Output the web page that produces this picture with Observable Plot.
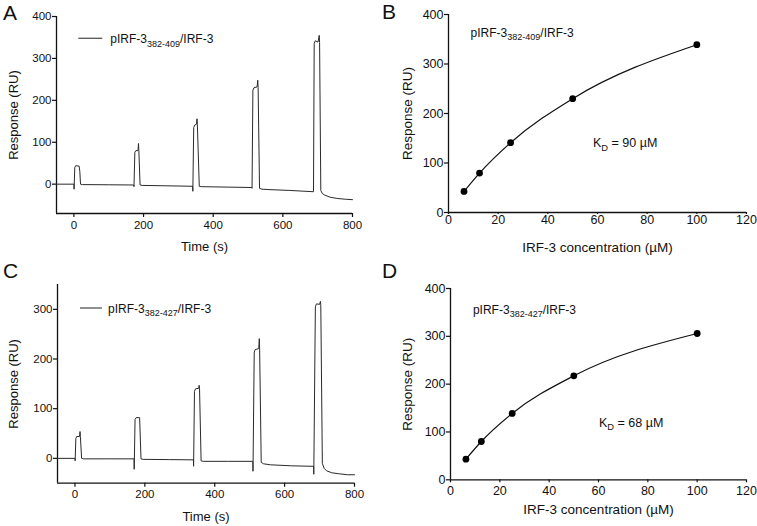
<!DOCTYPE html>
<html><head><meta charset="utf-8">
<script src="https://cdn.jsdelivr.net/npm/d3@7"></script>
<script src="https://cdn.jsdelivr.net/npm/@observablehq/plot@0.6"></script>
<style>
body{margin:0;background:#fff;}
#root{position:relative;width:757px;height:526px;background:#fff;overflow:hidden;font-family:"Liberation Sans",Arial,Helvetica,sans-serif;}
.panel{position:absolute;}
.panel svg{display:block;}
</style></head><body><div id="root"></div>
<script>
// ---------- Data ----------
// Panel A sensorgram: pIRF-3(382-409)/IRF-3
const timeA = [-50,0,0.5,2.5,5,15,17,19,24,100, 172,172.5,175,178,184,185.5,186.5,190,196,270, 341,341.5,344,347,352,353.5,354.5,360,366,440, 511,511.5,514,517,526,528,529,533,540,560, 620,687,688,690,693,701,704.5,705.5,709,713, 720,735,755,780,800];
const respA = [0,0,-12,40,44,43,30,0,-1,-1.5, -2,-6,76,80,80,97,80,-2,-3,-4, -5,-17,135,141,143,156,142,-5,-6,-7, -8,-10,224,230,232,248,230,-10,-12,-13, -15,-18,-18,335,342,339,355,338,-15,-22, -26,-31,-34,-36,-37];
// Panel C sensorgram: pIRF-3(382-427)/IRF-3
const timeC = [-50,0,0.5,2.5,5,13,14.5,15.5,19,25, 100,169,169.5,172,175,185,189,195,270,339, 339.5,342,345,354,355.5,356.5,361,367,440,509, 509.5,513,516,526,527.5,528.5,533,540,560,620, 683,683.5,688,691,700,702.5,703.5,708,713,720, 735,755,780,800];
const respC = [0,0,-5,40,44,44,54,44,0,-1, -1,-1,-22,78,82,82,-1,-2,-2.5,-3, -16,135,140,141,147,140,-5,-6,-6,-6, -26,214,219,221,241,220,-8,-11,-13,-15, -16,-32,305,311,310,316,309,-10,-20,-25, -29,-31,-33,-33];
// Panels B / D: steady-state response vs concentration
const concentration = [6.25, 12.5, 25, 50, 100];
const respB = [42.5, 79.6, 141, 230, 339];
const respD = [43.2, 80.1, 138.7, 217.4, 305.9];
// Ticks
const timeTicks = [0, 200, 400, 600, 800];
const respTicksA = [0, 100, 200, 300, 400];
const respTicksC = [0, 100, 200, 300];
const concTicks = [0, 20, 40, 60, 80, 100, 120];
const respTicksFit = [0, 100, 200, 300, 400];
// Labels
const labelA = [["pIRF-3"], ["382-409", true], ["/IRF-3"]];
const labelC = [["pIRF-3"], ["382-427", true], ["/IRF-3"]];
const kdB = [["K"], ["D", true], [" = 90 µM"]];
const kdD = [["K"], ["D", true], [" = 68 µM"]];

const FONT = "'Liberation Sans', Arial, Helvetica, sans-serif";
const root = document.getElementById("root");

function toRows(xs, ys) { return xs.map((x, i) => ({x, y: ys[i]})); }

function richText(svg, plot, x, y, parts, size) {
  const sx = plot.scale("x"), sy = plot.scale("y");
  const t = d3.select(svg).append("text")
    .attr("x", sx.apply(x)).attr("y", sy.apply(y))
    .attr("text-anchor", "start")
    .attr("font-size", size).attr("fill", "#111").attr("font-family", FONT);
  const shift = size * 0.28;
  let down = false;
  for (const [s, sub] of parts) {
    const ts = t.append("tspan").text(s);
    if (sub && !down) { ts.attr("dy", shift).attr("font-size", size * 0.75); down = true; }
    else if (!sub && down) { ts.attr("dy", -shift); down = false; }
  }
}

function panel(cfg) {
  const div = document.createElement("div");
  div.className = "panel";
  div.style.left = cfg.left + "px";
  div.style.top = cfg.top + "px";
  const [mt, mr, mb, ml] = cfg.margin;
  const plot = Plot.plot({
    width: cfg.width, height: cfg.height,
    marginTop: mt, marginRight: mr, marginBottom: mb, marginLeft: ml,
    x: {domain: cfg.xDomain},
    y: {domain: cfg.yDomain},
    style: {fontFamily: FONT, color: "#111", background: "white", overflow: "visible"},
    marks: [
      Plot.axisX(cfg.xTicks, {tickSize: cfg.xTickSize, tickPadding: cfg.xTickPadding, fontSize: cfg.tickFont, label: null, strokeWidth: 1.2}),
      Plot.axisY(cfg.yTicks, {tickSize: 4, tickPadding: 1, fontSize: cfg.tickFont, label: null, strokeWidth: 1.2}),
      Plot.ruleX([cfg.xDomain[0]], {stroke: "#111", strokeWidth: 1.3}),
      Plot.ruleY([cfg.yDomain[0]], {stroke: "#111", strokeWidth: 1.3}),
      ...cfg.marks,
      Plot.text([cfg.xTitle], {frameAnchor: "bottom", dy: cfg.xTitleDy, fontSize: cfg.titleFont, lineAnchor: "middle", textAnchor: "middle", fill: "#111"}),
      Plot.text([cfg.yTitle], {frameAnchor: "left", dx: cfg.yTitleDx, rotate: -90, fontSize: cfg.titleFont, lineAnchor: "middle", textAnchor: "middle", fill: "#111"})
    ]
  });
  d3.select(plot).append("text").text(cfg.letter)
    .attr("x", cfg.letterPos[0]).attr("y", cfg.letterPos[1])
    .attr("text-anchor", "start")
    .attr("font-size", 21).attr("font-family", FONT).attr("fill", "#111");
  for (const a of cfg.annotations) richText(plot, plot, a.x, a.y, a.parts, a.size);
  div.appendChild(plot);
  root.appendChild(div);
  return plot;
}

// Panel A
panel({
  left: 0, top: 0, width: 380, height: 260, margin: [16, 28, 47, 56],
  xDomain: [-50, 800], yDomain: [-70, 400], xTicks: timeTicks, yTicks: respTicksA,
  xTickSize: 4, xTickPadding: 3, tickFont: 11.5, titleFont: 13,
  xTitle: "Time (s)", yTitle: "Response (RU)", xTitleDy: 33.5, yTitleDx: -43,
  letter: "A", letterPos: [3, 20],
  marks: [
    Plot.line(toRows(timeA, respA), {x: "x", y: "y", stroke: "#2a2a2a", strokeWidth: 1}),
    Plot.ruleY([348], {x1: 14, x2: 83, stroke: "#555", strokeWidth: 1.3})
  ],
  annotations: [{x: 106, y: 335, parts: labelA, size: 12}]
});

// Panel B
panel({
  left: 380, top: 0, width: 377, height: 260, margin: [14, 11, 48, 68],
  xDomain: [0, 120], yDomain: [0, 400], xTicks: concTicks, yTicks: respTicksFit,
  xTickSize: 2, xTickPadding: 1, tickFont: 12.5, titleFont: 13.5,
  xTitle: "IRF-3 concentration (µM)", yTitle: "Response (RU)", xTitleDy: 35.4, yTitleDx: -41,
  letter: "B", letterPos: [2, 19],
  marks: [
    Plot.line(toRows(concentration, respB), {x: "x", y: "y", curve: "monotone-x", stroke: "#111", strokeWidth: 1.2}),
    Plot.dot(toRows(concentration, respB), {x: "x", y: "y", r: 3.4, fill: "#000", stroke: "none"})
  ],
  annotations: [
    {x: 9.1, y: 354, parts: labelA, size: 12},
    {x: 58.4, y: 131, parts: kdB, size: 12.5}
  ]
});

// Panel C
panel({
  left: 0, top: 260, width: 380, height: 266, margin: [24, 26, 43.3, 57],
  xDomain: [-50, 800], yDomain: [-50, 350], xTicks: timeTicks, yTicks: respTicksC,
  xTickSize: 4, xTickPadding: 3, tickFont: 11.5, titleFont: 13,
  xTitle: "Time (s)", yTitle: "Response (RU)", xTitleDy: 34, yTitleDx: -44,
  letter: "C", letterPos: [3, 18],
  marks: [
    Plot.line(toRows(timeC, respC), {x: "x", y: "y", stroke: "#2a2a2a", strokeWidth: 1}),
    Plot.ruleY([302.7], {x1: 15.7, x2: 78.7, stroke: "#555", strokeWidth: 1.3})
  ],
  annotations: [{x: 96, y: 292.6, parts: labelC, size: 12}]
});

// Panel D
panel({
  left: 380, top: 260, width: 377, height: 266, margin: [28, 11, 46.7, 70],
  xDomain: [0, 120], yDomain: [0, 400], xTicks: concTicks, yTicks: respTicksFit,
  xTickSize: 3, xTickPadding: 3, tickFont: 12.5, titleFont: 13.5,
  xTitle: "IRF-3 concentration (µM)", yTitle: "Response (RU)", xTitleDy: 29.4, yTitleDx: -43,
  letter: "D", letterPos: [2, 18],
  marks: [
    Plot.line(toRows(concentration, respD), {x: "x", y: "y", curve: "monotone-x", stroke: "#111", strokeWidth: 1.2}),
    Plot.dot(toRows(concentration, respD), {x: "x", y: "y", r: 3.4, fill: "#000", stroke: "none"})
  ],
  annotations: [
    {x: 9.3, y: 345.6, parts: labelC, size: 12},
    {x: 60.4, y: 110, parts: kdD, size: 12.5}
  ]
});
</script>
</body></html>
